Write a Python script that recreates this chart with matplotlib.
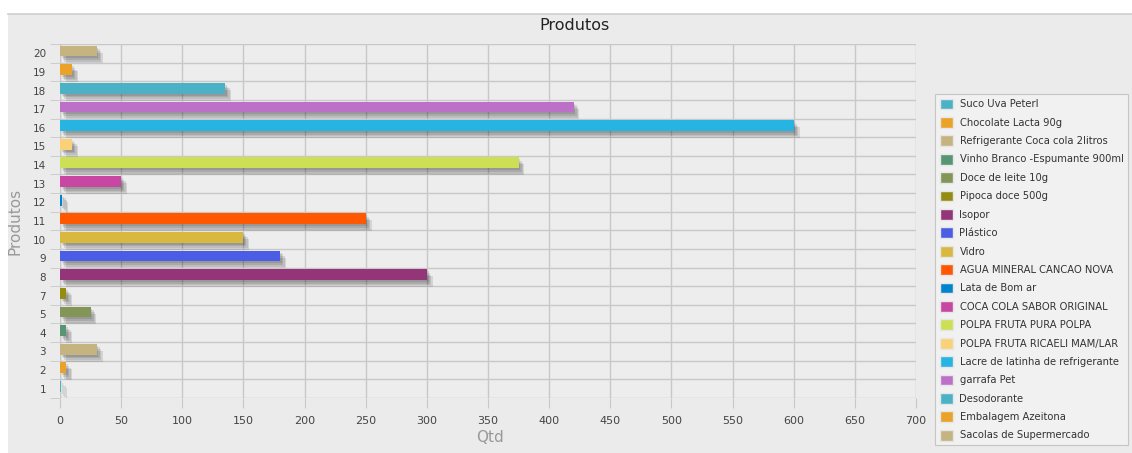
import numpy as np
import matplotlib.pyplot as plt
import matplotlib.patheffects as pe
from matplotlib.patches import Rectangle, Patch
from matplotlib.lines import Line2D

# produtos por codigo (o 6 nao aparece)
codigos = ['1', '2', '3', '4', '5', '7', '8', '9', '10', '11',
           '12', '13', '14', '15', '16', '17', '18', '19', '20']
nomes = ['Suco Uva Peterl', 'Chocolate Lacta 90g', 'Refrigerante Coca cola 2litros',
         'Vinho Branco -Espumante 900ml', 'Doce de leite 10g', 'Pipoca doce 500g',
         'Isopor', 'Plástico', 'Vidro', 'AGUA MINERAL CANCAO NOVA', 'Lata de Bom ar',
         'COCA COLA SABOR ORIGINAL', 'POLPA FRUTA PURA POLPA', 'POLPA FRUTA RICAELI MAM/LAR',
         'Lacre de latinha de refrigerante', 'garrafa Pet', 'Desodorante',
         'Embalagem Azeitona', 'Sacolas de Supermercado']
qtd = [1, 5, 30, 5, 25, 5, 300, 180, 150, 250, 2, 50, 375, 10, 600, 420, 135, 10, 30]
cores = ['#4bb2c5', '#eaa228', '#c5b47f', '#579575', '#839557', '#958c12', '#953579',
         '#4b5de4', '#d8b83f', '#ff5800', '#0085cc', '#c747a3', '#cddf54', '#fbd178',
         '#26b4e3', '#bd70c7', '#4bb2c5', '#eaa228', '#c5b47f']

W, H = 1132, 453
fig = plt.figure(figsize=(W / 100, H / 100), dpi=100)
fig.patch.set_facecolor('white')

# painel cinza de fundo
fig.patches.append(Rectangle((8 / W, 0), 1, (H - 14) / H, transform=fig.transFigure,
                             facecolor='#ebebeb', edgecolor='none', zorder=-10))
fig.lines.append(Line2D([8 / W, 1], [(H - 14) / H] * 2, transform=fig.transFigure,
                        color='#cfcfcf', lw=1.2, zorder=-9))

ax = fig.add_axes([60 / W, (H - 398) / H, (916 - 60) / W, (398 - 44) / H])
ax.set_facecolor('#ededed')

y = np.arange(len(codigos))
# sombra em camadas, cada uma um pouco mais deslocada
sombra = [pe.SimplePatchShadow(offset=(k, -k * 1.2), shadow_rgbFace='black', alpha=0.1)
          for k in (1.2, 2.2, 3.2, 4.2)] + [pe.Normal()]
for i in range(len(codigos)):
    ax.barh(y[i] + 0.12, qtd[i], height=0.58, color=cores[i], zorder=3,
            path_effects=sombra)

ax.set_xlim(0, 700)
ax.set_ylim(-0.5, len(codigos) - 0.5)
ax.set_xticks(np.arange(0, 701, 50))
ax.set_yticks(y)
ax.set_yticklabels(codigos)
ax.set_yticks(list(y + 0.5) + [-0.5], minor=True)

ax.grid(True, which='major', axis='x', color='#c8c8c8', lw=1, zorder=1)
ax.grid(True, which='minor', axis='y', color='#c8c8c8', lw=1, zorder=1)
for s in ax.spines.values():
    s.set_visible(False)
ax.axvline(0, color='#c8c8c8', lw=1, zorder=1)

ax.tick_params(axis='x', length=7, color='#c8c8c8', labelsize=8, labelcolor='#444444', pad=6)
ax.tick_params(axis='y', which='major', length=0, labelsize=7.5, labelcolor='#444444', pad=10)
ax.tick_params(axis='y', which='minor', length=7, color='#c8c8c8')

fig.text(575 / W, (H - 25) / H, 'Produtos', ha='center', va='center', fontsize=11.5, color='#222222')
fig.text(15 / W, (H - 221) / H, 'Produtos', ha='center', va='center', rotation=90,
         fontsize=11, color='#999999')
fig.text(490 / W, (H - 438) / H, 'Qtd', ha='center', va='center', fontsize=11, color='#999999')

handles = [Patch(facecolor=c, edgecolor='#e6e6e6', lw=1) for c in cores]
leg = fig.legend(handles, nomes, loc='upper left', bbox_to_anchor=(935 / W, (H - 94) / H),
                 fontsize=7.2, frameon=True, fancybox=False, handlelength=1.3, handleheight=1.3,
                 labelspacing=0.75, borderpad=0.45, borderaxespad=0, handletextpad=0.7,
                 labelcolor='#333333')
leg.get_frame().set_facecolor('#f3f3f3')
leg.get_frame().set_edgecolor('#bbbbbb')
leg.get_frame().set_linewidth(0.8)

fig.savefig('out.png', dpi=100)
